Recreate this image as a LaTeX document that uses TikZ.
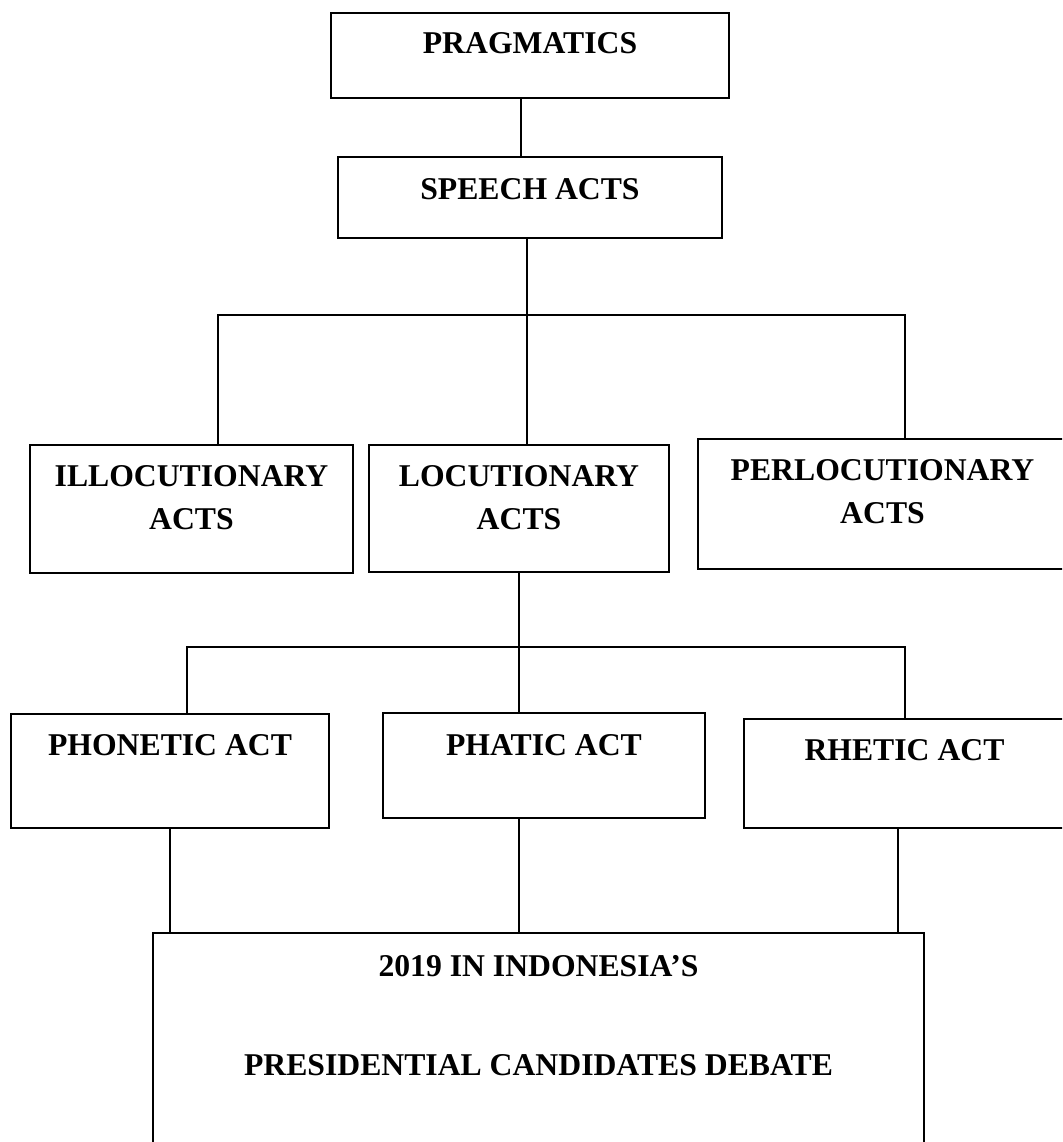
\documentclass[tikz,border=0pt]{standalone}
\usepackage{fontspec}
\setmainfont{Liberation Serif}
\newcommand{\boxfont}{\fontsize{31.7}{43}\selectfont\bfseries}

\begin{document}
\begin{tikzpicture}[x=1pt,y=-1pt,
 box/.style={draw,line width=2pt,inner sep=0pt,align=flush center,anchor=north west,font=\boxfont},
 link/.style={line width=2pt}]
\useasboundingbox (0,0) rectangle (1062,1142);
\clip (0,0) rectangle (1062,1142);
\node[box,text width=398pt,text height=41pt,text depth=44pt] (prag) at (330,12) {PRAGMATICS};
\node[box,text width=384pt,text height=43pt,text depth=38pt] (speech) at (337,156) {SPEECH ACTS};
\node[box,text width=323pt,text height=41pt,text depth=87pt] (illoc) at (29,444) {ILLOCUTIONARY\\ACTS};
\node[box,text width=300pt,text height=41pt,text depth=86pt] (loc) at (368,444) {LOCUTIONARY\\ACTS};
\node[box,text width=369pt,text height=41pt,text depth=89pt] (perloc) at (697,438) {PERLOCUTIONARY\\ACTS};
\node[box,text width=318pt,text height=41pt,text depth=73pt] (phon) at (10,713) {PHONETIC ACT};
\node[box,text width=322pt,text height=42pt,text depth=63pt] (phatic) at (382,712) {PHATIC ACT};
\node[box,text width=321pt,text height=41pt,text depth=68pt] (rhetic) at (743,718) {RHETIC ACT};
\node[box,text width=771pt,text height=43pt,text depth=240pt] (debate) at (152,932)
 {2019 IN INDONESIA’S\\[56pt]PRESIDENTIAL CANDIDATES DEBATE};
\coordinate (upbus) at (0,315);
\coordinate (lowbus) at (0,647);
% upper level
\draw[link] ([xshift=-9pt]prag.south) -- ([xshift=-9pt]speech.north);
\draw[link] ([xshift=-3pt]speech.south) -- ([xshift=-3pt]speech.south |- loc.north);
\draw[link] ([xshift=26pt]illoc.north) -- ([xshift=26pt]illoc.north |- upbus)
 -| ([xshift=22pt]perloc.north);
% lower level
\draw[link] (loc.south) -- (loc.south |- phatic.north);
\draw[link] ([xshift=17pt]phon.north) -- ([xshift=17pt]phon.north |- lowbus)
 -| (rhetic.north);
\draw[link] (phon.south) -- (phon.south |- debate.north);
\draw[link] (phatic.south -| loc.south) -- (debate.north -| loc.south);
\draw[link] ([xshift=-7pt]rhetic.south) -- ([xshift=-7pt]rhetic.south |- debate.north);
\end{tikzpicture}
\end{document}
